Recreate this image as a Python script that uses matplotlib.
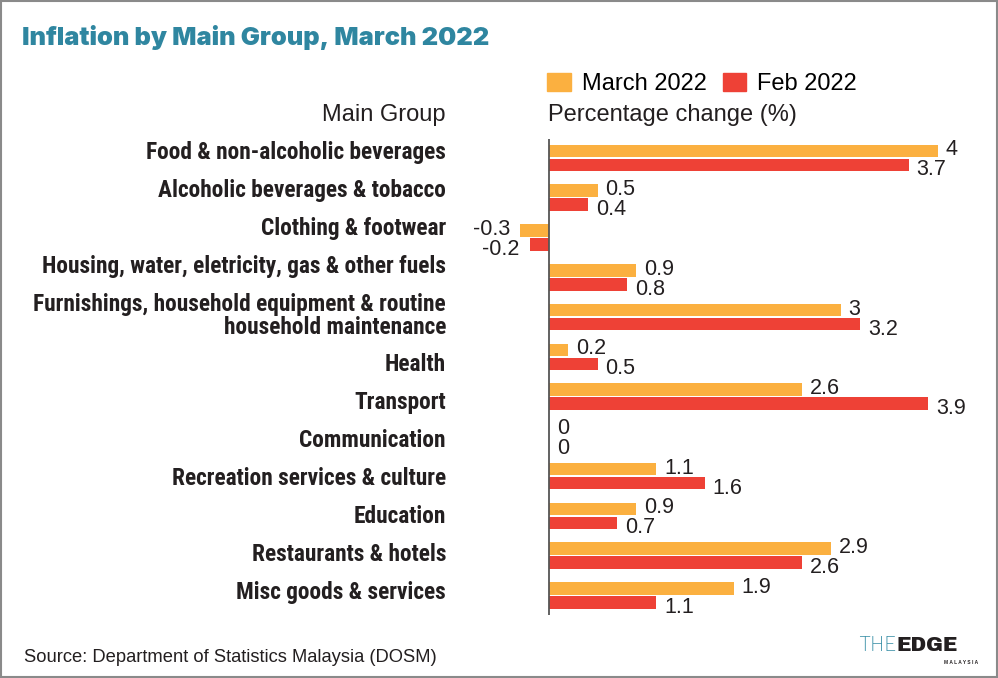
import matplotlib
matplotlib.use("Agg")
import matplotlib.pyplot as plt
import matplotlib.transforms as mtransforms
from matplotlib.patches import Patch, Rectangle
import numpy as np

# ---------- données ----------
groups = [
    "Food & non-alcoholic beverages",
    "Alcoholic beverages & tobacco",
    "Clothing & footwear",
    "Housing, water, eletricity, gas & other fuels",
    "Furnishings, household equipment & routine\nhousehold maintenance",
    "Health",
    "Transport",
    "Communication",
    "Recreation services & culture",
    "Education",
    "Restaurants & hotels",
    "Misc goods & services",
]
march_2022 = [4, 0.5, -0.3, 0.9, 3, 0.2, 2.6, 0, 1.1, 0.9, 2.9, 1.9]
feb_2022 = [3.7, 0.4, -0.2, 0.8, 3.2, 0.5, 3.9, 0, 1.6, 0.7, 2.6, 1.1]

ORANGE = "#FBB040"
RED = "#EE4136"
TEAL = "#2F86A0"
DARK = "#231F20"

COND = ["Roboto Condensed", "DejaVu Sans"]
REG = ["Liberation Sans", "DejaVu Sans"]

W, H = 998, 678
fig = plt.figure(figsize=(W / 100, H / 100), dpi=100)
fig.patch.set_facecolor("white")

# cadre gris
fig.add_artist(Rectangle((0.001, 0.001), 0.998, 0.997, transform=fig.transFigure,
                         fill=False, edgecolor="#8a8a8a", linewidth=1.5))

# ---------- axe principal (0 -> x=549px, 97.2 px par unité) ----------
px_unit = 97.2
ax_left, ax_right = 460, 990
ax_top, ax_bot = 139, 615
ax = fig.add_axes([ax_left / W, 1 - ax_bot / H, (ax_right - ax_left) / W, (ax_bot - ax_top) / H])
ax.set_xlim(-(549 - ax_left) / px_unit, (ax_right - 549) / px_unit)
pitch = 39.8
ax.set_ylim(len(groups) - 1 + (ax_bot - 595.5) / pitch, -(158 - ax_top) / pitch)
ax.axis("off")

y = np.arange(len(groups))
off = 0.176
bh = 0.315
ax.barh(y - off, march_2022, height=bh, color=ORANGE, edgecolor="none")
ax.barh(y + off, feb_2022, height=bh, color=RED, edgecolor="none")
ax.axvline(0, color="#555555", linewidth=1.3)

# étiquettes de valeurs
for i, (m, f) in enumerate(zip(march_2022, feb_2022)):
    for v, yy, dy in ((m, i - off, 1), (f, i + off, -5)):
        ha = "left" if v >= 0 else "right"
        dx = 8 if v >= 0 else -10
        ax.annotate(f"{v:g}", (v, yy), xytext=(dx, dy), textcoords="offset pixels",
                    ha=ha, va="center", fontsize=15.5, color=DARK, family=REG)

# libellés des groupes
trans = mtransforms.blended_transform_factory(fig.transFigure, ax.transData)
for i, g in enumerate(groups):
    ypx = 153 + 38 * i + 11 * (i >= 4) + 11 * (i >= 5)
    ax.text(446 / W, (ypx - 158) / pitch, g, transform=trans, ha="right", va="center",
            fontsize=16.8, fontweight="bold", color=DARK, family=COND, linespacing=1.0)

# ---------- titres ----------
fig.text(22 / W, 1 - 45 / H, "Inflation by Main Group, March 2022", ha="left", va="baseline",
         fontsize=18.3, fontweight="black", color=TEAL, family=["Inter", "DejaVu Sans"])
fig.text(446 / W, 1 - 121 / H, "Main Group", ha="right", va="baseline",
         fontsize=17, color=DARK, family=REG)
fig.text(548 / W, 1 - 121 / H, "Percentage change (%)", ha="left", va="baseline",
         fontsize=17, color=DARK, family=REG)

handles = [Patch(color=ORANGE, label="March 2022"), Patch(color=RED, label="Feb 2022")]
fig.legend(handles=handles, loc="center left", bbox_to_anchor=(547 / W, 1 - 84 / H),
           ncol=2, frameon=False, prop={"family": REG, "size": 17},
           handlelength=1.0, handleheight=0.8, handletextpad=0.47, columnspacing=0.68,
           borderaxespad=0, borderpad=0)

fig.text(24 / W, 1 - 662 / H, "Source: Department of Statistics Malaysia (DOSM)", ha="left",
         va="baseline", fontsize=13.2, color=DARK, family=REG)

# logo
fig.text(896 / W, 1 - 651 / H, "THE", ha="right", va="baseline", fontsize=14,
         color="#3C91A8", family=["Libre Franklin", "DejaVu Sans"])
fig.text(897 / W, 1 - 651 / H, "EDGE", ha="left", va="baseline", fontsize=14.5,
         color=DARK, family=["Archivo Black", "DejaVu Sans"])
fig.text(978 / W, 1 - 664 / H, "M A L A Y S I A", ha="right", va="baseline", fontsize=3.5,
         fontweight="bold", color=DARK, family=REG)

fig.savefig("out.png", dpi=100)
